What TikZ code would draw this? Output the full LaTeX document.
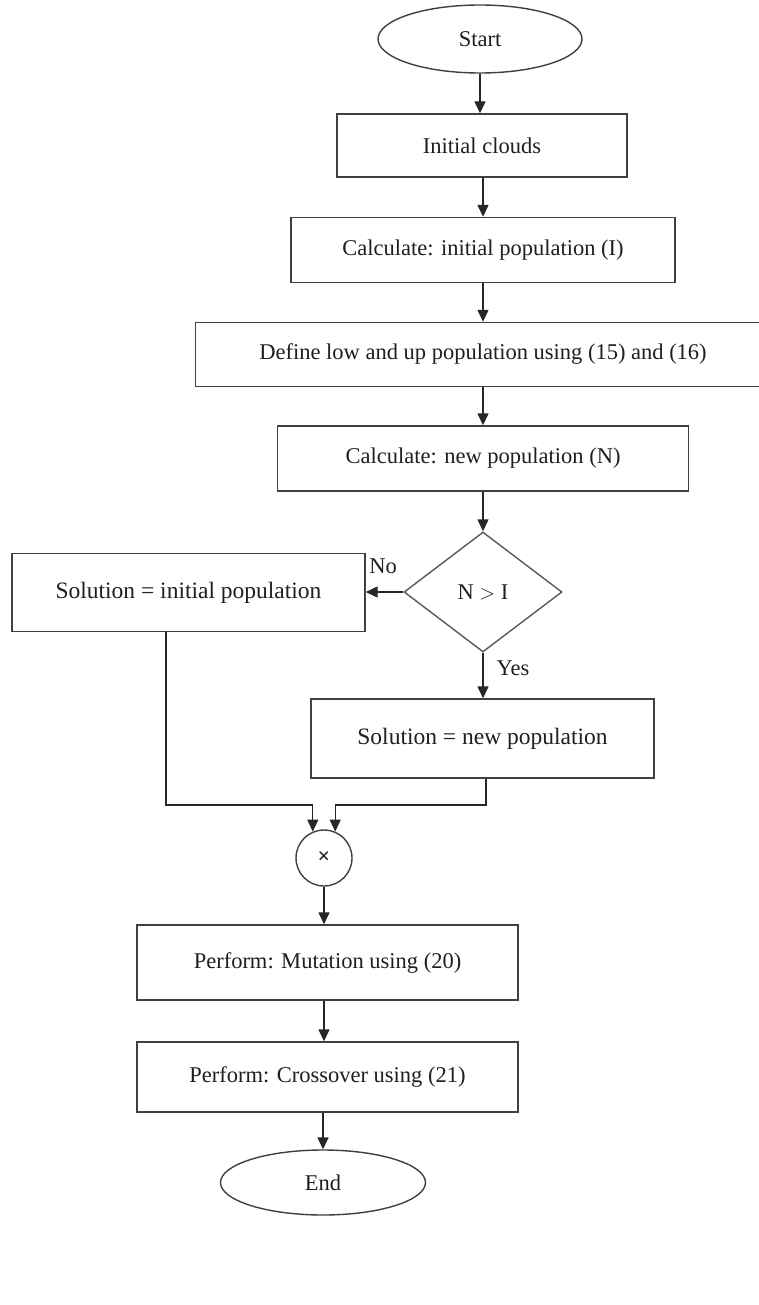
\documentclass[tikz,border=0pt]{standalone}
\usepackage{fontspec}
\setmainfont{Liberation Serif}
\usetikzlibrary{shapes.geometric,arrows.meta}
\begin{document}
\begin{tikzpicture}[x=1pt,y=-1pt,
  line width=1.4pt,
  every node/.style={font=\fontsize{22.5}{25}\selectfont, text=black!88},
  box/.style={draw=black!75, rectangle, inner sep=0pt},
  oval/.style={draw=black!75, ellipse, inner sep=0pt},
  dia/.style={draw=black!65, diamond, inner sep=0pt},
  arr/.style={draw=black!85, -{Triangle[length=12pt,width=11pt]}},
  lbl/.style={inner sep=0pt}
]
\useasboundingbox[fill=white] (0,0) rectangle (758,1305);
\node[oval, minimum width=204pt, minimum height=68pt] (start) at (480,39) {Start};
\node[box, minimum width=290pt, minimum height=63pt] (init) at (482,145.5) {Initial clouds};
\node[box, minimum width=384pt, minimum height=65pt] (calcI) at (483,250) {Calculate: initial population (I)};
\node[box, minimum width=575pt, minimum height=64pt] (def) at (483,354.5) {Define low and up population using (15) and (16)};
\node[box, minimum width=411pt, minimum height=65pt] (calcN) at (483,458.5) {Calculate: new population (N)};
\node[dia, minimum width=158pt, minimum height=120pt, aspect=1.3] (dec) at (483,592) {N $>$ I};
\node[box, minimum width=353pt, minimum height=78pt, font=\fontsize{23.5}{26}\selectfont] (solI) at (188.5,592.5) {Solution = initial population};
\node[box, minimum width=343pt, minimum height=79pt, font=\fontsize{23.5}{26}\selectfont] (solN) at (482.5,738.5) {Solution = new population};
\node[draw=black!75, circle, minimum size=56pt, inner sep=0pt, font=\fontsize{22}{22}\selectfont\bfseries] (mult) at (324,858) {\char"00D7};
\node[box, minimum width=381pt, minimum height=75pt] (mut) at (327.5,962.5) {Perform: Mutation using (20)};
\node[box, minimum width=381pt, minimum height=70pt] (cross) at (327.5,1077) {Perform: Crossover using (21)};
\node[oval, minimum width=205pt, minimum height=65pt] (end) at (323,1182.5) {End};
\node[lbl] (no) at (383,566) {No};
\node[lbl] (yes) at (513,668) {Yes};
\draw[arr] (start) -- (start.south |- init.north);
\draw[arr] (init.south -| calcI.north) -- (calcI.north);
\draw[arr] (calcI) -- (calcI.north |- def.north);
\draw[arr] (def.south -| calcN.north) -- (calcN.north);
\draw[arr] (calcN.south -| dec.north) -- (dec.north);
\draw[arr] (dec.west) -- (solI.east |- dec.west);
\draw[arr] (dec.south) -- (dec.south |- solN.north);
\coordinate (j1) at (166,805);
\coordinate (j2) at (486,805);
\draw[arr] (solI.south -| j1) -- (j1) -| (mult.113);
\draw[arr] (solN.south -| j2) -- (j2) -| (mult.67);
\draw[arr] (mult.south) -- (mult.south |- mut.north);
\draw[arr] (mut.south -| mult.south) -- (mult.south |- cross.north);
\draw[arr] (cross.south -| end.north) -- (end.north);
\end{tikzpicture}
\end{document}
